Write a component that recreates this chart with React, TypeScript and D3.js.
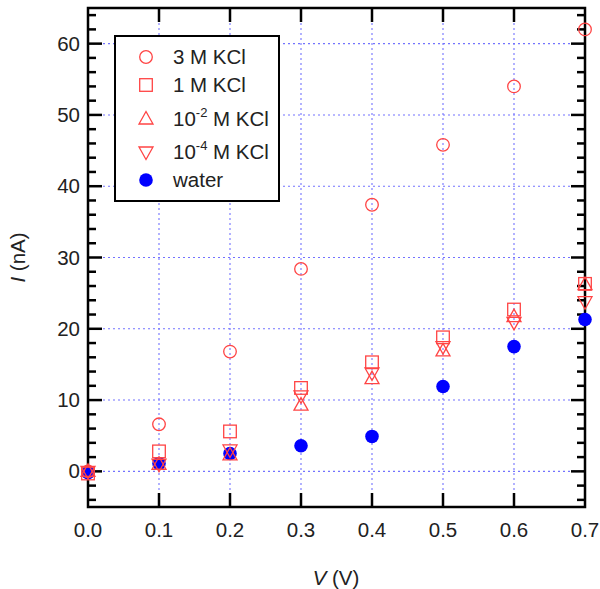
import React, { useEffect, useRef } from 'react'
import * as d3 from 'd3'

// voltage steps (V)
const voltages = [0, 0.1, 0.2, 0.3, 0.4, 0.5, 0.6, 0.7]

// current (nA) per electrolyte
const kcl3M = [0, 6.6, 16.8, 28.4, 37.4, 45.8, 54.0, 62.0]
const kcl1M = [-0.3, 2.8, 5.6, 11.7, 15.3, 18.8, 22.7, 26.3]
const kclE2 = [0, 1.0, 2.3, 9.3, 13.0, 16.9, 21.7, 26.2]
const kclE4 = [0, 1.0, 3.0, 10.6, 13.8, 17.5, 20.9, 23.8]
const water = [-0.2, 1.1, 2.5, 3.6, 4.9, 11.9, 17.5, 21.3]

const xTicks = [0, 0.1, 0.2, 0.3, 0.4, 0.5, 0.6, 0.7]
const yTicks = [0, 10, 20, 30, 40, 50, 60]
const yMinorTicks = d3.range(-4, 65, 2)

const legendItems = [
  { key: 'c', base: '3 M KCl', sup: '', rest: '' },
  { key: 's', base: '1 M KCl', sup: '', rest: '' },
  { key: 'tu', base: '10', sup: '-2', rest: ' M KCl' },
  { key: 'td', base: '10', sup: '-4', rest: ' M KCl' },
  { key: 'w', base: 'water', sup: '', rest: '' },
]

const RED = '#ff4444'
const BLUE = '#0000ff'
const FONT = 'Liberation Sans, Arial, sans-serif'

export default function App() {
  const svgRef = useRef<SVGSVGElement>(null)

  useEffect(() => {
    const svg = d3.select(svgRef.current)
    svg.selectAll('*').remove()

    const left = 88
    const right = 585
    const top = 8
    const bottom = 507

    const x = d3.scaleLinear().domain([0, 0.7]).range([left, right])
    const y = d3.scaleLinear().domain([-5, 65]).range([bottom, top])

    // dotted grid
    const grid = svg.append('g')
    xTicks.forEach((t) => {
      grid.append('line')
        .attr('x1', x(t)).attr('x2', x(t)).attr('y1', top).attr('y2', bottom)
        .attr('stroke', '#7373ff').attr('stroke-width', 1.1).attr('stroke-dasharray', '2,3')
    })
    yTicks.forEach((t) => {
      grid.append('line')
        .attr('x1', left).attr('x2', right).attr('y1', y(t)).attr('y2', y(t))
        .attr('stroke', '#7373ff').attr('stroke-width', 1.1).attr('stroke-dasharray', '2,3')
    })

    // ticks pointing inward on all four sides
    const ticks = svg.append('g').attr('stroke', '#000').attr('stroke-width', 2.5)
    xTicks.slice(1, -1).forEach((t) => {
      ticks.append('line').attr('x1', x(t)).attr('x2', x(t)).attr('y1', bottom).attr('y2', bottom - 14)
      ticks.append('line').attr('x1', x(t)).attr('x2', x(t)).attr('y1', top).attr('y2', top + 14)
    })
    yMinorTicks.forEach((t) => {
      const len = t % 10 === 0 ? 14 : 8
      ticks.append('line').attr('x1', left).attr('x2', left + len).attr('y1', y(t)).attr('y2', y(t))
      ticks.append('line').attr('x1', right).attr('x2', right - len).attr('y1', y(t)).attr('y2', y(t))
    })

    // frame
    svg.append('rect')
      .attr('x', left).attr('y', top).attr('width', right - left).attr('height', bottom - top)
      .attr('fill', 'none').attr('stroke', '#000').attr('stroke-width', 2.5)

    // tick labels
    const labels = svg.append('g').attr('font-family', FONT).attr('font-size', 20.5).attr('fill', '#222')
    xTicks.forEach((t) => {
      labels.append('text').attr('x', x(t)).attr('y', 537).attr('text-anchor', 'middle').text(t.toFixed(1))
    })
    yTicks.forEach((t) => {
      labels.append('text').attr('x', 80).attr('y', y(t) + 7).attr('text-anchor', 'end').text(t)
    })

    // axis titles
    const xt = labels.append('text').attr('x', 336).attr('y', 585).attr('text-anchor', 'middle')
    xt.append('tspan').attr('font-style', 'italic').text('V')
    xt.append('tspan').text(' (V)')
    const yt = labels.append('text')
      .attr('transform', `translate(25, ${(top + bottom) / 2}) rotate(-90)`)
      .attr('text-anchor', 'middle')
    yt.append('tspan').attr('font-style', 'italic').text('I')
    yt.append('tspan').text(' (nA)')

    // marker shapes
    const drawMarker = (g: any, key: string, cx: number, cy: number) => {
      if (key === 'c') {
        g.append('circle').attr('cx', cx).attr('cy', cy).attr('r', 6.3)
          .attr('fill', 'none').attr('stroke', RED).attr('stroke-width', 1.3)
      } else if (key === 's') {
        g.append('rect').attr('x', cx - 6.3).attr('y', cy - 6.3).attr('width', 12.6).attr('height', 12.6)
          .attr('fill', 'none').attr('stroke', RED).attr('stroke-width', 1.3)
      } else if (key === 'tu') {
        g.append('path').attr('d', `M${cx},${cy - 7.5}L${cx + 7},${cy + 5}L${cx - 7},${cy + 5}Z`)
          .attr('fill', 'none').attr('stroke', RED).attr('stroke-width', 1.3)
      } else if (key === 'td') {
        g.append('path').attr('d', `M${cx},${cy + 7.5}L${cx + 7},${cy - 5}L${cx - 7},${cy - 5}Z`)
          .attr('fill', 'none').attr('stroke', RED).attr('stroke-width', 1.3)
      } else {
        g.append('circle').attr('cx', cx).attr('cy', cy).attr('r', 6.8).attr('fill', BLUE)
      }
    }

    const series = [
      { key: 'w', values: water },
      { key: 'c', values: kcl3M },
      { key: 's', values: kcl1M },
      { key: 'tu', values: kclE2 },
      { key: 'td', values: kclE4 },
    ]
    const marks = svg.append('g')
    series.forEach((s) => {
      s.values.forEach((v, i) => drawMarker(marks, s.key, x(voltages[i]), y(v)))
    })

    // legend
    const lg = svg.append('g')
    lg.append('rect').attr('x', 115).attr('y', 36).attr('width', 164).attr('height', 165)
      .attr('fill', '#fff').attr('stroke', '#000').attr('stroke-width', 2)
    const rowY = [57, 85, 119, 152, 180]
    legendItems.forEach((item, i) => {
      drawMarker(lg, item.key, 146, rowY[i])
      const t = lg.append('text').attr('x', 173).attr('y', rowY[i] + 7)
        .attr('font-family', FONT).attr('font-size', 20.5).attr('fill', '#222')
      t.append('tspan').text(item.base)
      if (item.sup) {
        t.append('tspan').attr('font-size', 13).attr('dy', -9).text(item.sup)
        t.append('tspan').attr('dy', 9).text(item.rest)
      }
    })
  }, [])

  return <svg ref={svgRef} width={600} height={589} style={{ position: 'absolute', left: 0, top: 0, background: '#fff' }} />
}
